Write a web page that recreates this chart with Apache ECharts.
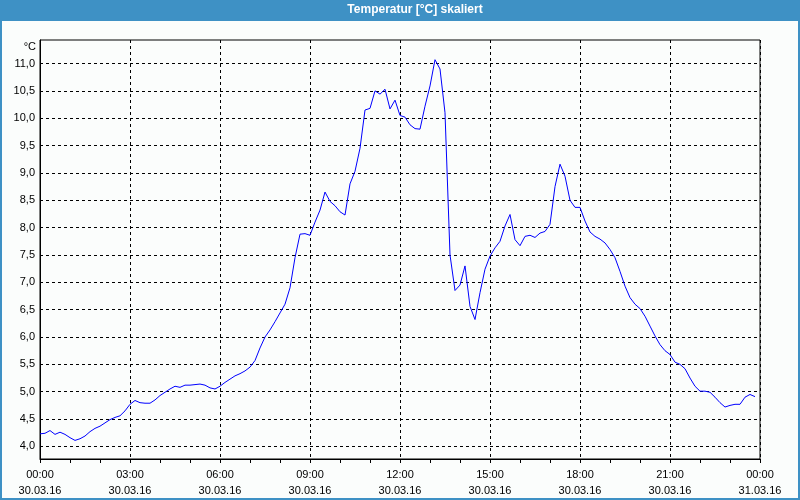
<!DOCTYPE html>
<html><head><meta charset="utf-8">
<script src="https://cdn.jsdelivr.net/npm/echarts@6/dist/echarts.min.js"></script>
<style>html,body{margin:0;padding:0;background:#fbfdfc}#c{width:800px;height:500px}</style>
</head><body><div id="c"></div>
<script>
const chartTitle = 'Temperatur [°C] skaliert';
const unitLabel = '°C';
const times = [
 '00:00','00:10','00:20','00:30','00:40','00:50',
 '01:00','01:10','01:20','01:30','01:40','01:50',
 '02:00','02:10','02:20','02:30','02:40','02:50',
 '03:00','03:10','03:20','03:30','03:40','03:50',
 '04:00','04:10','04:20','04:30','04:40','04:50',
 '05:00','05:10','05:20','05:30','05:40','05:50',
 '06:00','06:10','06:20','06:30','06:40','06:50',
 '07:00','07:10','07:20','07:30','07:40','07:50',
 '08:00','08:10','08:20','08:30','08:40','08:50',
 '09:00','09:10','09:20','09:30','09:40','09:50',
 '10:00','10:10','10:20','10:30','10:40','10:50',
 '11:00','11:10','11:20','11:30','11:40','11:50',
 '12:00','12:10','12:20','12:30','12:40','12:50',
 '13:00','13:10','13:20','13:30','13:40','13:50',
 '14:00','14:10','14:20','14:30','14:40','14:50',
 '15:00','15:10','15:20','15:30','15:40','15:50',
 '16:00','16:10','16:20','16:30','16:40','16:50',
 '17:00','17:10','17:20','17:30','17:40','17:50',
 '18:00','18:10','18:20','18:30','18:40','18:50',
 '19:00','19:10','19:20','19:30','19:40','19:50',
 '20:00','20:10','20:20','20:30','20:40','20:50',
 '21:00','21:10','21:20','21:30','21:40','21:50',
 '22:00','22:10','22:20','22:30','22:40','22:50',
 '23:00','23:10','23:20','23:30','23:40','23:50'
];
const temps = [
 4.23,4.24,4.29,4.22,4.26,4.22,
 4.16,4.11,4.14,4.19,4.27,4.33,
 4.37,4.43,4.49,4.53,4.56,4.65,
 4.77,4.84,4.80,4.79,4.79,4.85,
 4.93,4.99,5.05,5.10,5.08,5.12,
 5.12,5.13,5.14,5.12,5.07,5.05,
 5.10,5.17,5.23,5.29,5.33,5.38,
 5.45,5.57,5.80,6.00,6.13,6.28,
 6.44,6.60,6.90,7.45,7.88,7.89,
 7.86,8.10,8.32,8.65,8.48,8.40,
 8.29,8.23,8.80,9.03,9.45,10.15,
 10.18,10.50,10.44,10.53,10.17,10.33,
 10.05,10.02,9.88,9.81,9.80,10.22,
 10.59,11.07,10.90,10.10,7.50,6.85,
 6.95,7.30,6.56,6.32,6.81,7.24,
 7.48,7.63,7.75,8.03,8.24,7.78,
 7.67,7.84,7.86,7.82,7.90,7.93,
 8.06,8.75,9.16,8.94,8.50,8.37,
 8.37,8.12,7.92,7.84,7.79,7.72,
 7.60,7.45,7.20,6.93,6.72,6.60,
 6.52,6.38,6.20,6.02,5.86,5.75,
 5.68,5.54,5.50,5.42,5.25,5.10,
 5.01,5.01,4.99,4.90,4.80,4.72,
 4.75,4.77,4.77,4.90,4.95,4.91
];
const yTicks = [4.0,4.5,5.0,5.5,6.0,6.5,7.0,7.5,8.0,8.5,9.0,9.5,10.0,10.5,11.0];
const xTickHours = [0,3,6,9,12,15,18,21,24];
const xTickTimes = ['00:00','03:00','06:00','09:00','12:00','15:00','18:00','21:00','00:00'];
const xTickDates = ['30.03.16','30.03.16','30.03.16','30.03.16','30.03.16','30.03.16','30.03.16','30.03.16','31.03.16'];

const data = temps.map((v, i) => {
  const p = times[i].split(':').map(Number);
  return [p[0] + p[1] / 60, v];
});

const FONT = 'Liberation Sans';
const chart = echarts.init(document.getElementById('c'), null, {renderer: 'canvas'});
chart.setOption({
  animation: false,
  backgroundColor: '#fbfdfc',
  grid: {left: 40, right: 40, top: 40, bottom: 41, show: true, borderColor: '#000', borderWidth: 1, backgroundColor: 'transparent'},
  graphic: [
    {type: 'rect', shape: {x: 0, y: 0, width: 800, height: 21}, style: {fill: '#3e91c5'}, silent: true},
    {type: 'rect', shape: {x: 0, y: 0, width: 2, height: 500}, style: {fill: '#3e91c5'}, silent: true},
    {type: 'rect', shape: {x: 798, y: 0, width: 2, height: 500}, style: {fill: '#3e91c5'}, silent: true},
    {type: 'rect', shape: {x: 0, y: 498, width: 800, height: 2}, style: {fill: '#3e91c5'}, silent: true},
    {type: 'text', x: 415, y: 10, style: {text: chartTitle, fill: '#fff', font: 'bold 12px "' + FONT + '"', textAlign: 'center', textVerticalAlign: 'middle'}, silent: true},
    {type: 'text', x: 36, y: 47, style: {text: unitLabel, fill: '#000', font: '11px "' + FONT + '"', textAlign: 'right', textVerticalAlign: 'middle'}, silent: true}
  ],
  xAxis: {
    type: 'value', min: 0, max: 24, interval: 3,
    axisLine: {show: true, lineStyle: {color: '#000', width: 1}},
    axisTick: {show: true, length: 4, lineStyle: {color: '#000'}},
    minorTick: {show: true, splitNumber: 3, length: 4, lineStyle: {color: '#000'}},
    splitLine: {show: true, lineStyle: {color: '#000', type: [3, 3], width: 1}},
    axisLabel: {
      color: '#000', fontFamily: FONT, fontSize: 11, lineHeight: 16, margin: 8,
      formatter: v => { const i = xTickHours.indexOf(v); return i >= 0 ? xTickTimes[i] + '\n' + xTickDates[i] : ''; }
    }
  },
  yAxis: {
    type: 'value', min: 3.77, max: 11.43,
    axisLine: {show: true, lineStyle: {color: '#000', width: 1}},
    axisTick: {show: false, customValues: yTicks},
    splitLine: {show: true, lineStyle: {color: '#000', type: [3, 3], width: 1}},
    axisLabel: {
      color: '#000', fontFamily: FONT, fontSize: 11, margin: 5, customValues: yTicks,
      formatter: v => v.toFixed(1).replace('.', ',')
    }
  },
  series: [{
    type: 'line', data: data, showSymbol: false, symbol: 'none',
    lineStyle: {color: '#0000ff', width: 1}, silent: true
  }]
});
</script></body></html>
